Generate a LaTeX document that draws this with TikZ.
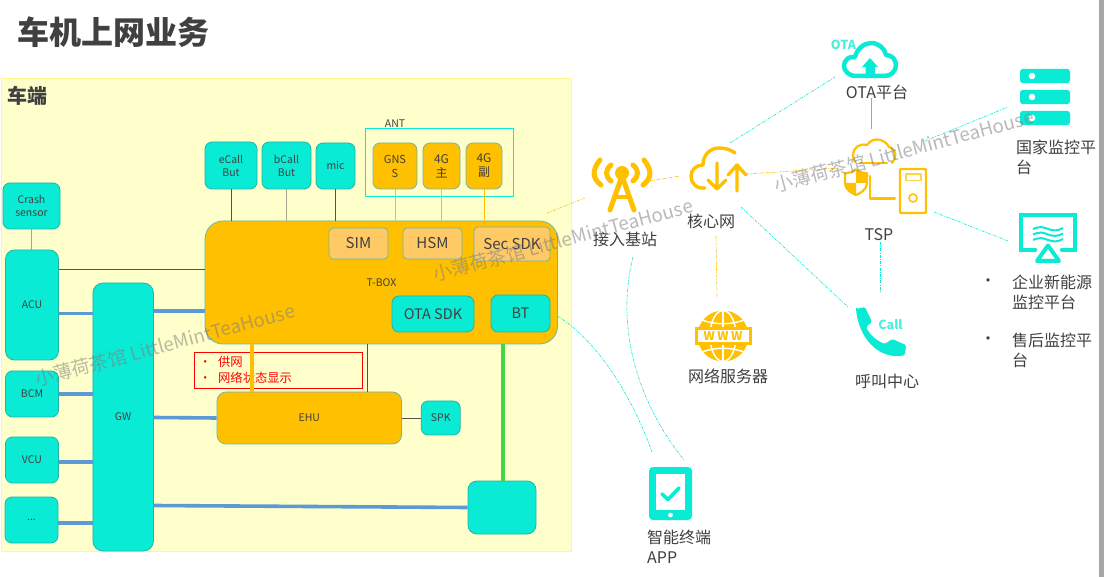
\documentclass[tikz,border=0pt]{standalone}
\usepackage{fontspec}
\setmainfont{Noto Sans CJK SC}
\usepackage{tikz}
\definecolor{cyanb}{HTML}{0AEBD5}
\definecolor{orangeb}{HTML}{FFC000}
\definecolor{edgeb}{HTML}{1FB5A5}
\definecolor{edgeo}{HTML}{6DB8A8}
\definecolor{txtc}{HTML}{404040}
\definecolor{busb}{HTML}{5B9BD5}
\definecolor{wirea}{HTML}{5E4F48}
\definecolor{wireb}{HTML}{A9A58E}
\definecolor{paleb}{HTML}{FFFFCC}
\definecolor{softo}{HTML}{FFC966}
\definecolor{greenb}{HTML}{44D644}
\begin{document}
\begin{tikzpicture}[x=1pt,y=-1pt,text=txtc]
      \tikzstyle{cbox}=[draw=edgeb,fill=cyanb,line width=.8,rounded corners=7,inner sep=0,align=center,font=\fontsize{10.5}{13}\selectfont];
      \tikzstyle{obox}=[cbox,draw=edgeo,fill=orangeb];
      \tikzstyle{sbox}=[cbox,draw=edgeo,fill=softo,font=\fontsize{15}{17}\selectfont];
      \tikzstyle{bus}=[busb,line width=3.6];
      \tikzstyle{wire}=[wirea,line width=.8];
      \tikzstyle{antwire}=[orangeb,line width=.9];
      \tikzstyle{link}=[cyanb,line width=.6,dash pattern=on 3 off 1.2 on 1 off 1.2];
      \tikzstyle{olink}=[link,orangeb];
      \tikzstyle{lab}=[font=\fontsize{16}{20}\selectfont,inner sep=0,align=left];
      \tikzstyle{wmark}=[text=gray,text opacity=.55,rotate=15,inner sep=0,font=\fontsize{18.8}{20}\selectfont];
      \useasboundingbox (0,0) rectangle (1104,577);
      \fill[white] (0,0) rectangle (1104,577);
      \fill[black!35] (1099,0) rectangle (1104,577);

      \node[inner sep=0,anchor=west,font=\bfseries\fontsize{32}{36}\selectfont] (title) at (17,32) {车机上网业务};
      \draw[yellow!45!white,fill=paleb,line width=.6] (1,78) rectangle (571,551);
      \node[inner sep=0,anchor=west,font=\bfseries\fontsize{20}{24}\selectfont] (car) at (7,96) {车端};

      \node[cbox,minimum width=52,minimum height=47] (eCall) at (231,165.5) {eCall\\But};
      \node[cbox,minimum width=49,minimum height=47] (bCall) at (286.5,165.5) {bCall\\But};
      \node[cbox,minimum width=39,minimum height=46] (mic) at (335.5,166) {mic};
      \node[cbox,minimum width=57,minimum height=46] (crash) at (31.5,206) {Crash\\sensor};
      \node[cbox,minimum width=53,minimum height=110,rounded corners=9] (ACU) at (32,305) {ACU};
      \node[cbox,minimum width=60.5,minimum height=268,rounded corners=10] (GW) at (123.2,417) {GW};
      \node[cbox,minimum width=53,minimum height=46] (BCM) at (32,394) {BCM};
      \node[cbox,minimum width=53,minimum height=46] (VCU) at (32,460) {VCU};
      \node[cbox,minimum width=53,minimum height=46] (other) at (31.5,520) {...};

      \node[draw=cyanb,line width=1,minimum width=148,minimum height=68,inner sep=0] (ANTbox) at (439,163) {};
      \node[inner sep=0,font=\fontsize{10.5}{12}\selectfont] (ANT) at (395,124) {ANT};
      \node[obox,minimum width=44,minimum height=46,font=\fontsize{11}{14}\selectfont] (GNSS) at (395,166) {GNS\\S};
      \node[obox,minimum width=37,minimum height=46,font=\fontsize{12}{14}\selectfont] (ant4a) at (441.5,166) {4G\\主};
      \node[obox,minimum width=36,minimum height=46,font=\fontsize{12}{14}\selectfont] (ant4b) at (484,166) {4G\\副};

      \node[obox,minimum width=352.5,minimum height=123,rounded corners=18] (TBOX) at (381.3,282.5) {};
      \node[inner sep=0,font=\fontsize{10.5}{12}\selectfont] (TBOXt) at (381.5,283) {T-BOX};
      \node[sbox,minimum width=59,minimum height=31,rounded corners=4] (SIM) at (358.5,243.5) {SIM};
      \node[sbox,minimum width=59,minimum height=31,rounded corners=4] (HSM) at (432.5,243.5) {HSM};
      \node[sbox,minimum width=76,minimum height=34,rounded corners=4] (SEC) at (512,244) {Sec SDK};
      \node[cbox,minimum width=82,minimum height=36,font=\fontsize{14.5}{16}\selectfont] (OTASDK) at (433,314) {OTA SDK};
      \node[cbox,minimum width=59,minimum height=37,font=\fontsize{14.5}{16}\selectfont] (BT) at (520.5,313.5) {BT};

      \node[obox,minimum width=184.5,minimum height=52,rounded corners=9] (EHU) at (309.3,418) {EHU};
      \node[cbox,minimum width=39,minimum height=34] (SPK) at (440.7,418) {SPK};
      \node[cbox,minimum width=68,minimum height=53,rounded corners=9] (modem) at (502,507.5) {};
      \node[draw=red,line width=.9,minimum width=168.5,minimum height=36,inner sep=0] (redbox) at (278.3,370) {};
      \node[inner sep=0,anchor=west,align=left,text=red,font=\fontsize{12.3}{16}\selectfont] (redtxt) at (199,370) {•\hspace{6.7pt}供网\\•\hspace{6.7pt}网络状态显示};

      \draw[wire] (eCall.south)--(eCall.south|-TBOX.north);
      \draw[wireb,line width=1] (bCall.south)--(bCall.south|-TBOX.north);
      \draw[wire] (mic.south)--(mic.south|-TBOX.north);
      \draw[wireb,line width=1] (crash.south)--(crash.south|-ACU.north);
      \draw[antwire] (GNSS.south)--(GNSS.south|-TBOX.north);
      \draw[antwire] (ant4a.south)--(ant4a.south|-TBOX.north);
      \draw[antwire] (ant4b.south)--(ant4b.south|-TBOX.north);
      \coordinate (acuT) at (58.5,269.5);
      \draw[wire] (acuT)--(acuT-|TBOX.west);
      \coordinate (acuG) at (58.5,313.7);
      \draw[bus] (acuG)--(acuG-|GW.west);
      \coordinate (gwT) at (153.5,311);
      \draw[bus] (gwT)--(gwT-|TBOX.west);
      \draw[bus] (BCM.east)--(BCM.east-|GW.west);
      \coordinate (vcuG) at (58.5,462);
      \draw[bus,line width=3.2] (vcuG)--(vcuG-|GW.west);
      \coordinate (othG) at (58,523);
      \draw[bus,line width=3.2] (othG)--(othG-|GW.west);
      \coordinate (gwEHU) at (153.5,417.5);
      \draw[bus] (gwEHU)--(EHU.west);
      \coordinate (gwMod) at (153.5,505.5);
      \draw[bus] (gwMod)--(modem.west);
      \draw[wire] (EHU.east)--(SPK.west);
      \coordinate (tEHU) at (367,344);
      \draw[wire] (tEHU)--(tEHU|-EHU.north);
      \coordinate (tPow) at (251.5,344);
      \draw[orangeb,line width=4] (tPow)--(tPow|-EHU.north);
      \coordinate (tGreen) at (503,344);
      \draw[greenb,line width=4.5] (tGreen)--(tGreen|-modem.north);

      \coordinate (tboxN) at (547,213);
      \coordinate (baseW) at (585,198);
      \coordinate (baseE) at (650,181);
      \coordinate (coreW) at (680,176);
      \coordinate (coreE) at (747,174);
      \coordinate (tspW) at (840,168);
      \coordinate (coreN) at (730,143);
      \coordinate (otaW) at (835,77);
      \coordinate (otaS) at (871.5,98);
      \coordinate (tspN) at (871.5,129);
      \coordinate (tspNE) at (925,141);
      \coordinate (stateW) at (1008,107);
      \coordinate (tspSE) at (934,212);
      \coordinate (entW) at (1008,241);
      \coordinate (tspS) at (880.5,242);
      \coordinate (callN) at (880.5,292);
      \coordinate (coreSE) at (741,207);
      \coordinate (callW) at (848,307);
      \coordinate (coreS) at (716,236);
      \coordinate (webN) at (717,298);
      \coordinate (btE) at (557,316);
      \coordinate (appA) at (652,452);
      \coordinate (baseS) at (633,257);
      \coordinate (appB) at (684,460);
      \draw[olink] (tboxN)--(baseW);
      \draw[olink] (baseE)--(coreW);
      \draw[olink] (coreE)--(tspW);
      \draw[olink] (coreS)--(webN);
      \draw[link] (coreN)--(otaW);
      \draw[link,line width=.9,dash pattern=on 20 off 0] (otaS)--(tspN);
      \draw[link] (tspNE)--(stateW);
      \draw[link] (tspSE)--(entW);
      \draw[link] (tspS)--(callN);
      \draw[link] (coreSE)--(callW);
      \draw[link] (btE) .. controls (590,335) and (628,385) .. (appA);
      \draw[link] (baseS) .. controls (617,320) and (632,395) .. (appB);

      \begin{scope}[orangeb,line width=5,line cap=round]
        \fill (622,173) circle(7);
        \draw (622,176)--(610,210) (622,176)--(634,210);
        \draw[line width=4,line cap=butt] (614,197)--(630,197);
        \draw (600,160) .. controls (592,170) and (592,178) .. (601,185);
        \draw (611,165) .. controls (605,170) and (605,176) .. (611,181);
        \draw (644,160) .. controls (652,170) and (652,178) .. (643,185);
        \draw (633,165) .. controls (639,170) and (639,176) .. (633,181);
      \end{scope}
      \node[lab] (baseL) at (625,239) {接入基站};

      \begin{scope}[orangeb,line width=3.4,line cap=round,line join=round]
        \draw (705,188) .. controls (696,189) and (691,183) .. (691,176) .. controls (691,170) and (696,165) .. (703,165) .. controls (703,155) and (710,148) .. (719,148) .. controls (726,148) and (731,150) .. (735,153);
        \draw (717,163)--(717,189) (708,180)--(717,189)--(726,180);
        \draw (737,191)--(737,165) (728,175)--(737,165)--(746,175);
      \end{scope}
      \node[lab] (coreL) at (711,221) {核心网};

      \draw[cyanb,line width=4.5,line join=round] (856,76) .. controls (848,76) and (844,70) .. (844,66) .. controls (844,60) and (849,56) .. (855,57) .. controls (857,49) and (864,43) .. (871,43) .. controls (879,43) and (885,49) .. (886,55) .. controls (892,55) and (896,60) .. (896,65) .. controls (896,71) and (891,76) .. (885,76) -- cycle;
      \fill[cyanb] (870,58)--(878,67)--(875,67)--(875,77)--(865.5,77)--(865.5,67)--(862,67)--cycle;
      \node[inner sep=0,text=cyanb!75,font=\bfseries\fontsize{12.5}{14}\selectfont] (otaIc) at (843.5,45) {OTA};
      \node[lab] (otaL) at (877,92) {OTA平台};

      \begin{scope}[orangeb,line width=2.2,line join=round,line cap=round]
        \draw (892,163) .. controls (897,158) and (897,149) .. (889,147) .. controls (885,139) and (873,136) .. (867,145) .. controls (859,143) and (853,148) .. (853,155) .. controls (853,158) and (854,160) .. (855,162);
        \draw (860,163)--(887,163);
        \draw (845,173) .. controls (850,173) and (853,172) .. (856,169.5) .. controls (859,172) and (863,173) .. (867,173)--(867,183) .. controls (867,189) and (861,193) .. (856,195) .. controls (851,193) and (845,189) .. (845,183) -- cycle;
        \fill (856,171)--(866,173.5)--(866,183)--(856,183)--cycle;
        \fill (856,183)--(846,183) .. controls (846,189) and (851,192) .. (856,194) -- cycle;
        \draw (870,176)--(870,198.5)--(895,198.5);
        \draw[rounded corners=1] (900,169) rectangle (926,213);
        \draw[orangeb!70,line width=1.6] (906,174) rectangle (921,180.5);
        \draw[line width=1.6] (913,198) circle(4);
      \end{scope}
      \node[lab] (tspL) at (879,235) {TSP};

      \foreach \yy in {76,97,118}{
        \fill[cyanb,rounded corners=3] (1020,\yy-7.2) rectangle (1070,\yy+7.2);
        \fill[white] (1032,\yy) circle(3.3);
      }
      \node[lab,anchor=north west] (stateL) at (1016,139.5) {国家监控平\\台};

      \begin{scope}[cyanb]
        \draw[line width=4.5,line cap=round] (1035,250)--(1021,250)--(1021,215)--(1075,215)--(1075,250)--(1062,250);
        \draw[line width=4,line join=round] (1048,245.5)--(1037,261)--(1059,261)--cycle;
        \foreach \yy in {229,234.5,240}{
          \draw[line width=2] (1033,\yy) .. controls (1040,\yy-3) and (1043,\yy-2) .. (1048,\yy) .. controls (1053,\yy+2) and (1058,\yy+2) .. (1063,\yy-1);
        }
      \end{scope}
      \node[lab] (dotA) at (988,283) {•};
      \node[lab,anchor=north west] (entL) at (1012,275) {企业新能源\\监控平台};
      \node[lab] (dotB) at (988,341) {•};
      \node[lab,anchor=north west] (saleL) at (1012,333) {售后监控平\\台};

      \fill[orangeb] (723,336) circle(25.5);
      \begin{scope}[white,line width=1.5]
        \draw (723,310)--(723,362);
        \draw (723,336) ellipse(13 and 25.5);
        \draw (702,320) .. controls (715,325) and (731,325) .. (744,320);
        \draw (702,352) .. controls (715,347) and (731,347) .. (744,352);
      \end{scope}
      \node[draw=orangeb,fill=white,line width=3,minimum width=54,minimum height=15,inner sep=0,text=orangeb,font=\bfseries\fontsize{12}{13}\selectfont] (www) at (723,336) {W\hspace{2.5pt}W\hspace{2.5pt}W};
      \node[lab] (webL) at (728,376) {网络服务器};

      \fill[cyanb,rounded corners=1.5] (856,309)--(865,307)--(872,322)--(866,327) .. controls (870,335) and (877,341) .. (885,344)--(892,339)--(906,345)--(905,355) .. controls (885,360) and (860,345) .. (856,309)--cycle;
      \node[inner sep=0,text=cyanb!75,font=\bfseries\fontsize{12.5}{14}\selectfont] (callIc) at (890.5,325) {Call};
      \node[lab] (callL) at (887,381) {呼叫中心};

      \fill[cyanb,rounded corners=4] (649,467) rectangle (692,520);
      \fill[white] (656,474) rectangle (685,510);
      \draw[cyanb,line width=3.6,line cap=round,line join=round] (662,494)--(668,499.5)--(679,488);
      \fill[white] (670.5,515) circle(2.4);
      \node[lab,anchor=north west] (appL) at (647,529.5) {智能终端\\APP};

      \node[wmark] (markA) at (165,345) {小薄荷茶馆 LittleMintTeaHouse};
      \node[wmark] (markB) at (563,240) {小薄荷茶馆 LittleMintTeaHouse};
      \node[wmark] (markC) at (904,151) {小薄荷茶馆 LittleMintTeaHouse};
    \end{tikzpicture}
\end{document}
